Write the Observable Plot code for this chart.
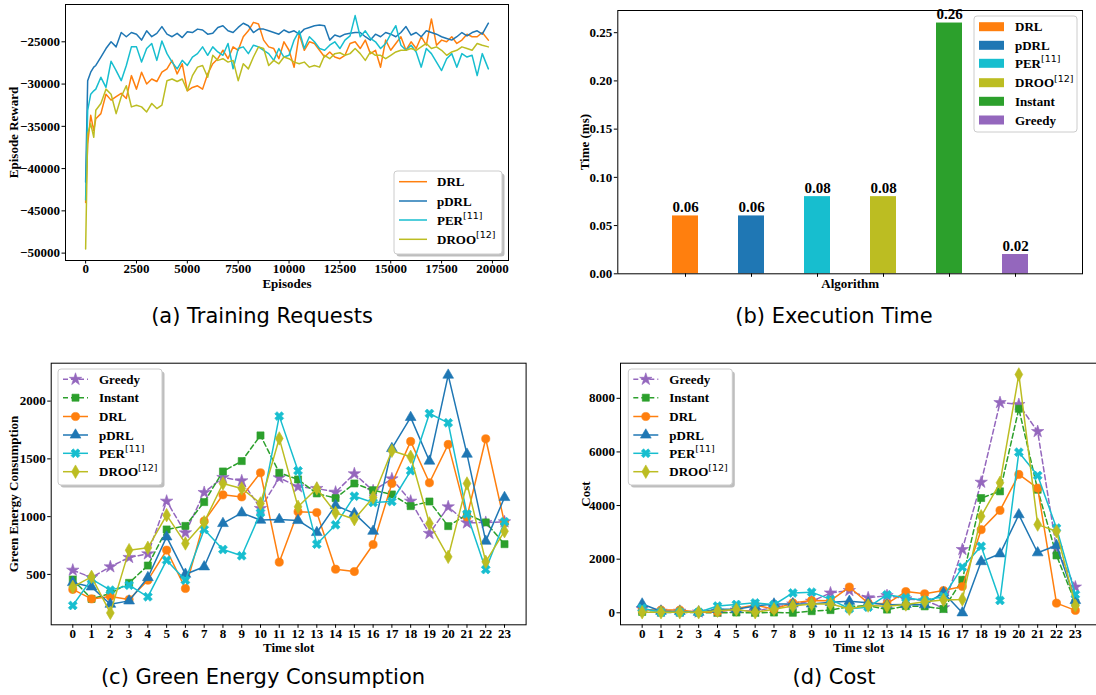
<!DOCTYPE html>
<html><head><meta charset="utf-8">
<script src="https://cdn.jsdelivr.net/npm/d3@7"></script>
<script src="https://cdn.jsdelivr.net/npm/@observablehq/plot@0.6"></script>
<style>
body{margin:0;background:#fff;}
#wrap{position:relative;width:1096px;height:695px;overflow:hidden;background:#fff;}
#wrap > svg{position:absolute;}
</style></head><body><div id="wrap"></div>
<script>
// ---------- (a) Training rewards ----------
const episodes = [0,100,250,400,500,750,1000,1250,1500,1750,2000,2250,2500,2750,3000,3250,3500,3750,4000,4250,4500,4750,5000,5250,5500,5750,6000,6250,6500,6750,7000,7250,7500,7750,8000,8250,8500,8750,9000,9250,9500,9750,10000,10250,10500,10750,11000,11250,11500,11750,12000,12250,12500,12750,13000,13250,13500,13750,14000,14250,14500,14750,15000,15250,15500,15750,16000,16250,16500,16750,17000,17250,17500,17750,18000,18250,18500,18750,19000,19250,19500,19800];
const rewardDRL = [-44000,-37100,-33700,-35500,
-34100,-33500,
-31200,-31900,-31500,-31100,
-31700,-29000,-30600,-28600,
-30000,-29400,-29700,-28600,
-28200,-27200,-28800,-27600,
-30800,-30400,-30200,-30600,
-28800,-27600,-27000,-26000,
-27000,-25600,-26000,-24400,
-23700,-22700,-22900,-24800,
-25600,-25800,-27000,-25000,
-26000,-28000,-24100,-26000,
-25000,-25200,-26000,-26800,
-26200,-26800,-27000,-26600,
-25200,-25000,-25800,-24800,
-26400,-26000,-28000,-24800,
-26000,-25200,-24400,-26000,
-25000,-25800,-24400,-25400,
-22300,-25400,-24800,-25000,
-24400,-25200,-24800,-24100,
-24400,-24400,-23900,-24800];
const rewardPDRL = [-41600,-29600,-28600,-28000,
-27800,-26800,
-25800,-25000,-25600,-23900,
-24400,-23900,-24100,-24800,
-23700,-24400,-24000,-23200,
-24100,-24400,-24000,-24500,
-23800,-23900,-23500,-23600,
-24100,-24000,-23300,-23100,
-23700,-23900,-23300,-22800,
-23100,-23900,-23500,-23500,
-23700,-23900,-24100,-23600,
-23900,-23700,-24100,-23500,
-23300,-23100,-23000,-23100,
-24800,-24200,-24400,-24100,
-24000,-23900,-23900,-24400,
-24800,-24100,-24400,-23900,
-24100,-24400,-23900,-23200,
-24200,-23900,-24400,-23700,
-23900,-24100,-24400,-24600,
-24800,-24400,-23900,-24300,
-23900,-23700,-24100,-22800];
const rewardPER = [-43700,-33100,-31200,-30800,
-30600,-29200,
-30400,-27300,-28400,-29600,
-27800,-25600,-25600,-27400,
-25800,-25200,-27200,-24900,
-26400,-27400,-28200,-27200,
-27800,-26800,-26400,-25600,
-26600,-25600,-26200,-26600,
-25200,-28200,-25800,-25600,
-26400,-25400,-25600,-26000,
-26400,-27200,-25800,-26800,
-26600,-24800,-23700,-25800,
-24400,-25000,-25800,-26000,
-25400,-25000,-25800,-24800,
-24300,-21900,-24400,-23700,
-24600,-25000,-25800,-25200,
-24100,-23100,-25400,-26000,
-25400,-26200,-28000,-25800,
-26400,-27400,-28400,-27000,
-26400,-28000,-26400,-26800,
-26600,-29000,-26400,-28200];
const rewardDROO = [-49500,-35900,-34700,-36300,
-33100,-32300,
-30600,-31200,-33500,-31500,
-30200,-32700,-32500,-32700,
-33300,-32300,-32900,-32500,
-29600,-29400,-29700,-29400,
-30800,-29000,-28000,-27800,
-29200,-26600,-27200,-27000,
-27400,-27200,-29600,-27600,
-28200,-26800,-25600,-25800,
-27800,-27200,-27600,-26800,
-27000,-27400,-27600,-27400,
-28000,-27800,-28000,-26600,
-27000,-26400,-26300,-26600,
-26400,-25800,-26400,-27200,
-26200,-26600,-26600,-27000,
-26600,-26200,-26000,-26000,
-25800,-26000,-25600,-25200,
-25800,-25600,-26000,-26600,
-26200,-26000,-25600,-25800,
-26000,-25200,-25400,-25600];
const episodeTicks = [0,2500,5000,7500,10000,12500,15000,17500,20000];
const rewardTicks = [-50000,-45000,-40000,-35000,-30000,-25000];

// ---------- (b) Execution time ----------
const algorithms = ["DRL","pDRL","PER","DROO","Instant","Greedy"];
const execTime = [0.06,0.06,0.08,0.08,0.26,0.02];
const timeTicks = [0,0.05,0.10,0.15,0.20,0.25];

// ---------- (c) Green energy, (d) Cost ----------
const timeSlots = [0,1,2,3,4,5,6,7,8,9,10,11,12,13,14,15,16,17,18,19,20,21,22,23];
const greenGreedy  = [537,473,566,647,678,1134,860,1209,1339,1310,1071,1336,1258,1244,1212,1371,1224,1327,1134,855,1085,946,950,955];
const greenInstant = [456,288,335,427,577,889,920,1126,1391,1481,1703,1380,1322,1201,1160,1287,1229,1192,1091,1131,918,1019,950,762];
const greenDRL     = [370,288,309,283,450,710,378,961,1189,1171,1380,606,1042,1036,545,525,759,1287,1651,1293,1625,998,1674,946];
const greenPDRL    = [430,392,242,271,473,825,502,566,941,1033,970,976,967,863,1097,1028,874,1590,1859,1481,2225,1541,788,1166];
const greenPER     = [231,459,364,407,306,623,450,889,716,661,1033,1870,1397,762,929,1177,1123,1131,1397,1893,1812,1022,542,955];
const greenDROO    = [392,479,167,710,730,1013,768,952,1287,1244,1114,1677,1085,1244,1033,978,1166,1570,1518,941,652,1287,609,874];
const greenTicks = [500,1000,1500,2000];

const costGreedy  = [150,60,60,30,60,100,60,200,330,430,740,830,560,640,520,460,190,2360,4870,7840,7770,6760,2390,960];
const costInstant = [30,10,10,10,0,10,0,10,0,60,100,230,270,120,250,240,140,1230,4280,4530,7610,4590,2140,370];
const costDRL     = [100,100,100,20,30,160,290,130,370,460,450,960,360,340,790,710,830,980,3100,3820,5160,4650,360,90];
const costPDRL    = [330,60,50,20,130,130,250,330,330,330,390,430,370,300,310,300,750,0,1910,2200,3660,2240,2510,460];
const costPER     = [170,20,20,20,250,310,370,300,740,770,500,150,210,670,560,460,610,1700,2480,460,5990,5120,3160,680];
const costDROO    = [20,20,20,20,80,120,20,130,250,330,330,150,270,240,310,410,480,500,3600,4850,8890,3290,3040,270];
const costTicks = [0,2000,4000,6000,8000];

// ---------- styling ----------
const palette = {DRL:"#ff7f0e", pDRL:"#1f77b4", PER:"#17becf", DROO:"#bcbd22", Instant:"#2ca02c", Greedy:"#9467bd"};
const supers = {PER:"[11]", DROO:"[12]"};
const symbolName = {Greedy:"star", Instant:"square", DRL:"circle", pDRL:"triangle", PER:"cross", DROO:"diamond"};
const symbolR = {Greedy:3.9, Instant:4, DRL:4.1, pDRL:4, PER:4, DROO:4.1};
const d3Symbols = {star:d3.symbolStar, square:d3.symbolSquare, circle:d3.symbolCircle, triangle:d3.symbolTriangle, cross:d3.symbolCross, diamond:d3.symbolDiamond};
const serif = "'Liberation Serif','Times New Roman',serif";
const baseStyle = {fontFamily: serif, fontWeight: "bold", fontSize: "13px", overflow: "visible", background: "transparent", color: "#000"};
const colorScale = {domain: Object.keys(palette), range: Object.values(palette)};
const minus = d => d < 0 ? "\u2212" + Math.abs(d) : String(d);

const wrap = document.getElementById("wrap");
function place(svg, left, top) { svg.style.position = "absolute"; svg.style.left = left + "px"; svg.style.top = top + "px"; wrap.appendChild(svg); }

function axisLabels(xl, xdy, yl, ydx) {
  return [
    Plot.text([xl], {text: d => d, frameAnchor: "bottom", dy: xdy, textAnchor: "middle", lineAnchor: "middle", fontSize: 13}),
    Plot.text([yl], {text: d => d, frameAnchor: "left", dx: ydx, rotate: -90, textAnchor: "middle", lineAnchor: "middle", fontSize: 13})
  ];
}

// ---------- panel (a) ----------
const rewardSeries = [["DRL", rewardDRL], ["pDRL", rewardPDRL], ["PER", rewardPER], ["DROO", rewardDROO]];
const rewardRows = rewardSeries.flatMap(([k, vals]) => vals.map((v, i) => ({algo: k, episode: episodes[i], reward: v})));
const pa = Plot.plot({
  width: 520, height: 300, marginLeft: 65, marginRight: 12, marginTop: 4, marginBottom: 40,
  style: baseStyle,
  x: {domain: [-990, 20790]}, y: {domain: [-50873, -20587]},
  color: colorScale,
  marks: [
    Plot.line(rewardRows, {x: "episode", y: "reward", stroke: "algo", strokeWidth: 1.5}),
    Plot.axisX({ticks: episodeTicks, tickSize: 3.5, tickPadding: 0, tickFormat: d => String(d), label: null}),
    Plot.axisY({ticks: rewardTicks, tickSize: 3.5, tickPadding: 2, tickFormat: minus, label: null}),
    Plot.frame({stroke: "#000", strokeWidth: 1}),
    ...axisLabels("Episodes", 23.5, "Episode Reward", -52)
  ]
});
place(pa, 0, 0);

// ---------- panel (b) ----------
const execRows = algorithms.map((a, i) => ({algo: a, time: execTime[i]}));
const pb = Plot.plot({
  width: 536, height: 300, marginLeft: 57.3, marginRight: 14, marginTop: 10, marginBottom: 26.7,
  style: baseStyle,
  x: {domain: algorithms, paddingInner: 0.61, paddingOuter: 0.805},
  y: {domain: [0, 0.273]},
  color: colorScale,
  marks: [
    Plot.barY(execRows, {x: "algo", y: "time", fill: "algo"}),
    Plot.axisX({tickSize: 3.5, tickFormat: () => "", label: null}),
    Plot.axisY({ticks: timeTicks, tickSize: 3.5, tickPadding: 2, tickFormat: d3.format(".2f"), label: null}),
    Plot.frame({stroke: "#000", strokeWidth: 1}),
    Plot.text(execRows, {x: "algo", y: "time", text: d => d3.format(".2f")(d.time), dy: -4, lineAnchor: "bottom", fontSize: 15}),
    ...axisLabels("Algorithm", 10, "Time (ms)", -33)
  ]
});
place(pb, 560, 0);

// ---------- panels (c), (d) ----------
const order = ["Greedy", "Instant", "DRL", "pDRL", "PER", "DROO"];
function rowsOf(arrs) {
  return order.flatMap((k, j) => arrs[j].map((v, i) => ({algo: k, slot: timeSlots[i], value: v})));
}
function seriesMarks(rows) {
  return order.flatMap(k => {
    const d = rows.filter(r => r.algo === k);
    const dashed = k === "Greedy" || k === "Instant";
    const lineOpts = {x: "slot", y: "value", stroke: palette[k], strokeWidth: 1.5};
    if (dashed) lineOpts.strokeDasharray = "5,3";
    return [
      Plot.line(d, lineOpts),
      Plot.dot(d, {x: "slot", y: "value", fill: palette[k], stroke: palette[k], strokeWidth: 0.6,
        symbol: symbolName[k], r: symbolR[k], rotate: k === "PER" ? 45 : 0})
    ];
  });
}
const greenRows = rowsOf([greenGreedy, greenInstant, greenDRL, greenPDRL, greenPER, greenDROO]);
const pc = Plot.plot({
  width: 540, height: 320, marginLeft: 50.7, marginRight: 14.4, marginTop: 22.7, marginBottom: 35.7,
  style: baseStyle,
  x: {domain: [-1.15, 24.15]}, y: {domain: [64, 2328]},
  marks: [
    Plot.axisX({ticks: timeSlots, tickSize: 3.5, tickPadding: 0, tickFormat: d => String(d), label: null}),
    Plot.axisY({ticks: greenTicks, tickSize: 3.5, tickPadding: 2, tickFormat: d => String(d), label: null}),
    ...seriesMarks(greenRows),
    Plot.frame({stroke: "#000", strokeWidth: 1}),
    ...axisLabels("Time slot", 23.5, "Green Energy Consumption", -37)
  ]
});
place(pc, 0, 340);

const costRows = rowsOf([costGreedy, costInstant, costDRL, costPDRL, costPER, costDROO]);
const pd = Plot.plot({
  width: 537, height: 320, marginLeft: 60, marginRight: 0.5, marginTop: 22.7, marginBottom: 35.7,
  style: baseStyle,
  x: {domain: [-1.15, 24.15]}, y: {domain: [-448, 9310]},
  marks: [
    Plot.axisX({ticks: timeSlots, tickSize: 3.5, tickPadding: 0, tickFormat: d => String(d), label: null}),
    Plot.axisY({ticks: costTicks, tickSize: 3.5, tickPadding: 2, tickFormat: d => String(d), label: null}),
    ...seriesMarks(costRows),
    Plot.frame({stroke: "#000", strokeWidth: 1}),
    ...axisLabels("Time slot", 23.5, "Cost", -35)
  ]
});
place(pd, 560, 340);

// ---------- legends and captions (overlay) ----------
const ov = d3.select(wrap).append("svg").attr("width", 1096).attr("height", 695)
  .style("position", "absolute").style("left", "0px").style("top", "0px")
  .style("font-family", serif).style("font-weight", "bold").style("font-size", "13px");

function legendBox(x, y, w, h, shadow) {
  if (shadow) ov.append("rect").attr("x", x + 2.5).attr("y", y + 2.5).attr("width", w).attr("height", h)
    .attr("rx", 3).attr("fill", "#888").attr("opacity", 0.55);
  ov.append("rect").attr("x", x).attr("y", y).attr("width", w).attr("height", h)
    .attr("rx", 3).attr("fill", "#fff").attr("stroke", "#ccc").attr("stroke-width", 1);
}
function legendLabel(x, y, k) {
  const t = ov.append("text").attr("x", x).attr("y", y + 4.5).attr("fill", "#000").text(k);
  if (supers[k]) t.append("tspan").attr("dy", -5.5).style("font-size", "9.5px").style("font-weight", "normal")
    .style("font-family", "'DejaVu Sans',sans-serif").text(supers[k]);
}

// (a)
legendBox(394, 171, 108, 83, true);
["DRL", "pDRL", "PER", "DROO"].forEach((k, i) => {
  const cy = [181.7, 201, 220, 239.3][i];
  ov.append("line").attr("x1", 399).attr("x2", 427).attr("y1", cy).attr("y2", cy).attr("stroke", palette[k]).attr("stroke-width", 1.5);
  legendLabel(437, cy, k);
});
// (b)
legendBox(974, 16, 103, 116, false);
algorithms.forEach((k, i) => {
  const cy = [26.7, 45.3, 63.3, 82.7, 101.3, 120][i];
  ov.append("rect").attr("x", 979).attr("y", cy - 4.5).attr("width", 25).attr("height", 9).attr("fill", palette[k]);
  legendLabel(1015, cy, k);
});
// (c), (d)
function markerLegend(bx, by) {
  legendBox(bx, by, 104, 116, true);
  order.forEach((k, i) => {
    const cy = by + [10.3, 28.7, 47.5, 66, 84.3, 102.7][i];
    const l = ov.append("line").attr("x1", bx + 5).attr("x2", bx + 30).attr("y1", cy).attr("y2", cy)
      .attr("stroke", palette[k]).attr("stroke-width", 1.5);
    if (k === "Greedy" || k === "Instant") l.attr("stroke-dasharray", "5,3");
    const r = symbolR[k];
    ov.append("path").attr("d", d3.symbol(d3Symbols[symbolName[k]], Math.PI * r * r)())
      .attr("transform", `translate(${bx + 17.5},${cy}) rotate(${k === "PER" ? 45 : 0})`)
      .attr("fill", palette[k]).attr("stroke", palette[k]).attr("stroke-width", 0.6);
    legendLabel(bx + 41, cy, k);
  });
}
markerLegend(58, 369);
markerLegend(628.3, 369);

// captions
const captions = [["(a) Training Requests", 262, 323], ["(b) Execution Time", 834, 323],
                  ["(c) Green Energy Consumption", 263, 684], ["(d) Cost", 834, 684]];
captions.forEach(([t, x, y]) => ov.append("text").attr("x", x).attr("y", y).attr("text-anchor", "middle")
  .style("font-family", "'DejaVu Sans',sans-serif").style("font-weight", "normal").style("font-size", "21px")
  .attr("fill", "#000").text(t));
</script>
</body></html>
